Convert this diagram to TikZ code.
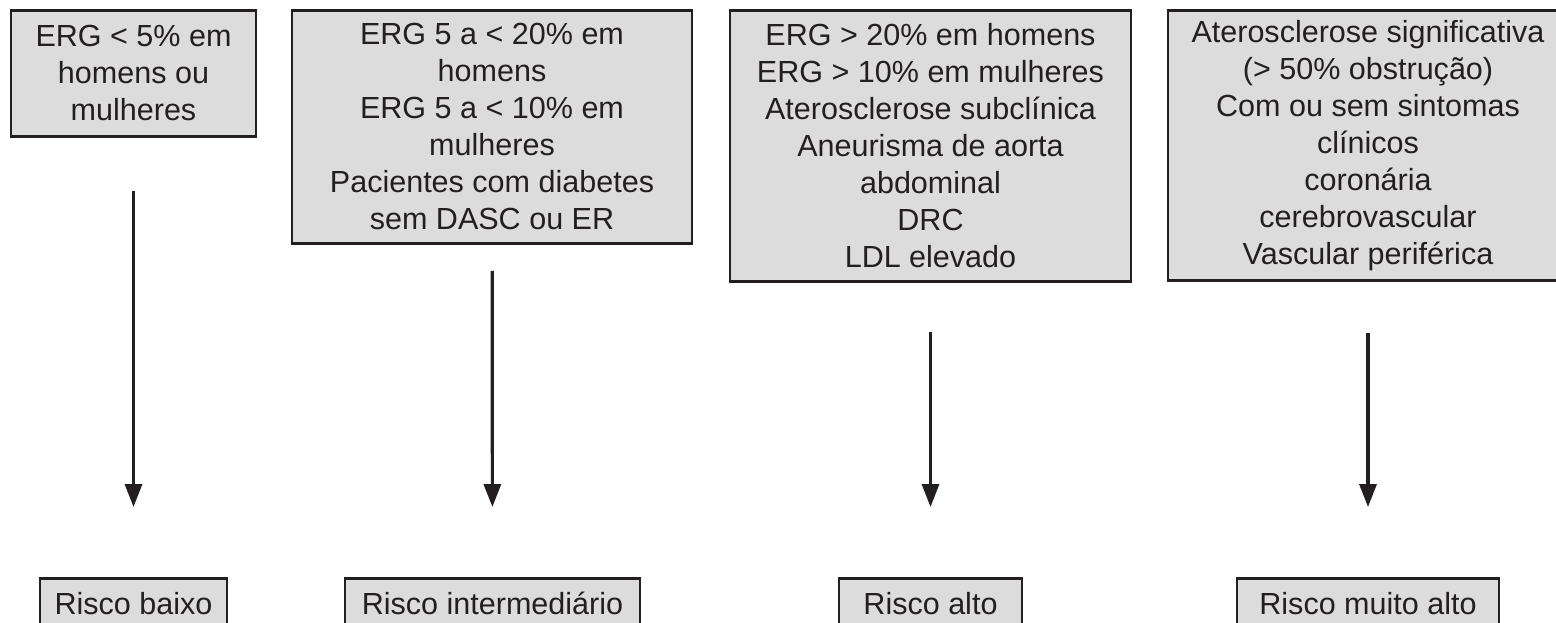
\documentclass[tikz,border=0pt]{standalone}
\usepackage{fontspec}
\setmainfont{Liberation Sans}
\usetikzlibrary{arrows.meta}
\definecolor{ink}{HTML}{231F20}
\definecolor{boxgray}{HTML}{DCDCDC}

\begin{document}
\begin{tikzpicture}[x=0.75pt,y=-0.75pt,
  crit/.style={draw=ink,fill=boxgray,line width=2.2pt,text=ink,align=center,anchor=north,inner sep=0pt,font=\fontsize{22.9}{27.75}\selectfont},
  risk/.style={draw=ink,fill=boxgray,line width=2.2pt,text=ink,anchor=north,inner xsep=0pt,inner ysep=10.5pt,text height=16.5pt,text depth=0pt,font=\fontsize{22.9}{27.75}\selectfont},
  flow/.style={draw=ink,line width=2.4pt,-{Triangle[width=12.75pt,length=17.25pt]},shorten >=52.5pt}]
\useasboundingbox (0,0) rectangle (1556,622);
\node[crit,minimum width=183.75pt,minimum height=94.5pt](c1) at (133.5,9){ERG < 5\% em\\homens ou\\mulheres};
\node[crit,minimum width=300pt,minimum height=174.75pt](c2) at (492,9){ERG 5 a < 20\% em\\homens\\ERG 5 a < 10\% em\\mulheres\\Pacientes com diabetes\\sem DASC ou ER};
\node[crit,minimum width=300.75pt,minimum height=203.25pt](c3) at (930.5,9){ERG > 20\% em homens\\ERG > 10\% em mulheres\\Aterosclerose subclínica\\Aneurisma de aorta\\abdominal\\DRC\\LDL elevado};
\node[crit,minimum width=300pt,minimum height=202.5pt](c4) at (1368,9){Aterosclerose significativa\\(> 50\% obstrução)\\Com ou sem sintomas\\clínicos\\coronária\\cerebrovascular\\Vascular periférica};
\node[risk,minimum width=140.25pt](r1) at (133.5,577){Risco baixo};
\node[risk,minimum width=221.25pt](r2) at (492.5,577){Risco intermediário};
\node[risk,minimum width=137.25pt](r3) at (930.5,577){Risco alto};
\node[risk,minimum width=196.5pt](r4) at (1368,577){Risco muito alto};
\draw[flow,shorten <=39.75pt](c1) -- (r1);
\draw[flow,shorten <=19.5pt](c2) -- (r2);
\draw[flow,shorten <=36.75pt](c3) -- (r3);
\draw[flow,shorten <=38.25pt](c4) -- (r4);
\end{tikzpicture}
\end{document}
